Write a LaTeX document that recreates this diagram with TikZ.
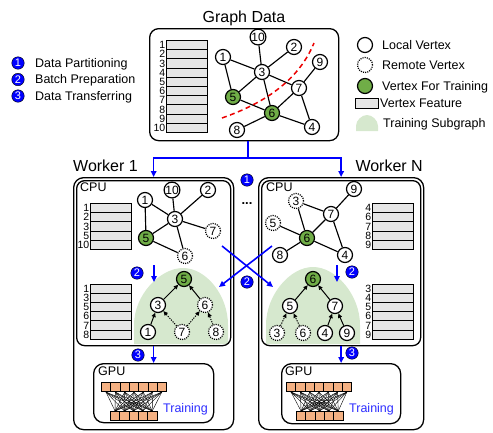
\documentclass[tikz,border=0pt]{standalone}
\usepackage{fontspec}
\setmainfont{Liberation Sans}
\usetikzlibrary{arrows.meta}
\usetikzlibrary{positioning}

\definecolor{vgreen}{RGB}{112,173,71}
\definecolor{sgreen}{RGB}{214,232,206}
\definecolor{featgray}{RGB}{230,230,230}
\definecolor{bblue}{RGB}{0,0,255}
\definecolor{tblue}{RGB}{45,45,255}
\definecolor{norange}{RGB}{244,177,131}
\definecolor{cutred}{RGB}{235,0,0}

% column of feature rows: name, x, top y, labels
\newcommand{\featcol}[4]{%
  \foreach \lbl [count=\k] in {#4} {
    \node[feat, anchor=north west] (#1\k) at (#2, {#3+(\k-1)*9.2}) {};
    \node[featnum, anchor=east] (#1n\k) at (#1\k.west) {\lbl};
  }
}

% small dense network: name, x of top row, x of bottom row
\newcommand{\nnet}[3]{%
  \foreach \k in {1,...,7}
    \node[neuron, anchor=north west] (#1t\k) at ({#2+(\k-1)*9.3}, 382) {};
  \foreach \k in {1,...,5}
    \node[neuron, anchor=north west] (#1b\k) at ({#3+(\k-1)*9.3}, 411) {};
  \foreach \i in {1,...,7} {
    \foreach \j in {1,...,5} {
      \draw[syn] (#1t\i.south) -- (#1b\j.north);
    }
  }
}

\begin{document}
\begin{tikzpicture}[x=1pt, y=-1pt,
    vtx/.style={circle, draw=black, line width=1.2pt, fill=white, minimum size=15pt, inner sep=0pt, font=\fontsize{12}{12}\selectfont},
    remote/.style={vtx, dash pattern=on 1.1pt off 1.1pt},
    train/.style={vtx, fill=vgreen},
    feat/.style={rectangle, draw=black, line width=1pt, fill=featgray, minimum width=41pt, minimum height=9.2pt, inner sep=0pt},
    featnum/.style={inner sep=0.6pt, font=\fontsize{10.5}{10.5}\selectfont},
    panel/.style={rectangle, draw=black, line width=1.3pt, rounded corners=9pt, inner sep=0pt, anchor=north west},
    badge/.style={circle, fill=bblue, draw=black, line width=0.4pt, text=white, minimum size=12.5pt, inner sep=0pt, font=\fontsize{11}{11}\selectfont},
    flow/.style={draw=bblue, line width=1.6pt, -{Triangle[length=6pt,width=5.5pt]}},
    link/.style={line width=1.15pt},
    dep/.style={line width=1pt, -{Triangle[length=4.5pt,width=4pt]}},
    remotedep/.style={dep, dash pattern=on 1.2pt off 1.2pt},
    neuron/.style={rectangle, draw=black, line width=0.8pt, fill=norange, minimum size=9.3pt, inner sep=0pt},
    syn/.style={line width=0.4pt},
    txt/.style={inner sep=0pt, font=\fontsize{12.5}{13}\selectfont},
    head/.style={inner sep=0pt, font=\fontsize{16}{17}\selectfont}]

  \useasboundingbox (0,0) rectangle (493,432);

  % Legend, steps
  \node[badge] (bd1) at (18,63) {1};
  \node[badge] (bd2) at (18,79.5) {2};
  \node[badge] (bd3) at (18,96) {3};
  \node[txt, anchor=base west] (lg1) at (35,67.3) {Data Partitioning};
  \node[txt, anchor=base west] (lg2) at (35,83.8) {Batch Preparation};
  \node[txt, anchor=base west] (lg3) at (35,100.3) {Data Transferring};

  % Legend, symbols
  \node[vtx] (ic1) at (365,45) {};
  \node[remote] (ic2) at (365,65) {};
  \node[train] (ic3) at (365,86) {};
  \node[feat, minimum width=23pt, minimum height=10pt] (ic4) at (366.5,103) {};
  \fill[sgreen] (356,131) -- (356,126) .. controls (356,120) and (362,115) .. (367,115)
    .. controls (372,115) and (378,120) .. (378,126) -- (378,131) -- cycle;
  \node[txt, anchor=base west] (lr1) at (382,49.3) {Local Vertex};
  \node[txt, anchor=base west] (lr2) at (382,69.3) {Remote Vertex};
  \node[txt, anchor=base west] (lr3) at (382,90.3) {Vertex For Training};
  \node[txt, anchor=base west] (lr4) at (380,107.3) {Vertex Feature};
  \node[txt, anchor=base west] (lr5) at (383,127.3) {Training Subgraph};

  % Graph data
  \node[head, anchor=base] (gtitle) at (244,22.5) {Graph Data};
  \node[panel, minimum width=189pt, minimum height=112pt] (gdata) at (149,28) {};
  \featcol{gf}{166}{40}{1,2,3,4,5,6,7,8,9,10}

  \node[vtx] (g10) at (258,37) {10};
  \node[vtx] (g2) at (294,47) {2};
  \node[vtx] (g1) at (223,57) {1};
  \node[vtx] (g9) at (320,62) {9};
  \node[vtx] (g3) at (262,72) {3};
  \node[vtx] (g7) at (299,88) {7};
  \node[train] (g5) at (233,97) {5};
  \node[train] (g6) at (272,113) {6};
  \node[vtx] (g4) at (312,127) {4};
  \node[vtx] (g8) at (237,130) {8};
  \foreach \a/\b in {1/3,10/3,2/3,1/5,3/5,3/6,3/7,7/9,7/6,7/4,5/6,6/8,6/4}
    \draw[link] (g\a) -- (g\b);

  % Partition cut
  \draw[cutred, line width=1.5pt, dash pattern=on 5pt off 3.5pt]
    (222,118) .. controls (262,104) and (298,82) .. (314,43);

  % Workers
  \node[head, anchor=base west] (w1name) at (73,171.5) {Worker 1};
  \node[head, anchor=base east] (wNname) at (423,171.5) {Worker N};
  \node[panel, rounded corners=10pt, minimum width=160pt, minimum height=252pt] (w1) at (73,177) {};
  \node[panel, rounded corners=10pt, minimum width=165pt, minimum height=252pt] (wN) at (258,177) {};

  % Training subgraphs
  \fill[sgreen] (228,344) -- (228,325) .. controls (228,295) and (206,268) .. (183,268)
    .. controls (160,268) and (134,295) .. (134,325) -- (134,344) -- cycle;
  \fill[sgreen] (360,344) -- (360,325) .. controls (360,295) and (336,267) .. (313,267)
    .. controls (290,267) and (266,295) .. (266,325) -- (266,344) -- cycle;

  \node[panel, rounded corners=8pt, minimum width=154pt, minimum height=165pt] (cpu1) at (76,180) {};
  \node[panel, rounded corners=8pt, minimum width=159pt, minimum height=165pt] (cpuN) at (261,180) {};
  \node[panel, rounded corners=10pt, minimum width=120pt, minimum height=59pt] (gpu1) at (93,363) {};
  \node[panel, rounded corners=10pt, minimum width=119pt, minimum height=60pt] (gpuN) at (281,363) {};
  \node[txt, anchor=base west] (cpu1name) at (80,191) {CPU};
  \node[txt, anchor=base west] (cpuNname) at (266,191.5) {CPU};
  \node[txt, anchor=base west] (gpu1name) at (98,375.7) {GPU};
  \node[txt, anchor=base west] (gpuNname) at (285,375.7) {GPU};

  % Worker 1 partition
  \featcol{af}{90}{203}{1,2,3,5,10}
  \node[vtx] (a10) at (172,190) {10};
  \node[vtx] (a2) at (208,190) {2};
  \node[vtx] (a1) at (145,200) {1};
  \node[vtx] (a3) at (175,219) {3};
  \node[remote] (a7) at (213,231) {7};
  \node[train] (a5) at (146,238) {5};
  \node[remote] (a6) at (185,256) {6};
  \foreach \a/\b in {1/3,10/3,2/3,3/7,3/5,3/6,1/5,5/6}
    \draw[link] (a\a) -- (a\b);

  % Worker 1 batch
  \featcol{bf}{90}{283.5}{1,3,5,6,7,8}
  \node[train] (b5) at (184,279) {5};
  \node[vtx] (b3) at (158,305) {3};
  \node[remote] (b6) at (205,305) {6};
  \node[vtx] (b1) at (148,332) {1};
  \node[remote] (b7) at (182,332) {7};
  \node[remote] (b8) at (216,332) {8};
  \draw[dep] (b3) -- (b5);
  \draw[dep] (b6) -- (b5);
  \draw[dep] (b1) -- (b3);
  \draw[remotedep] (b7) -- (b3);
  \draw[remotedep] (b7) -- (b6);
  \draw[remotedep] (b8) -- (b6);

  % Worker N partition
  \featcol{cf}{372}{203}{4,6,7,8,9}
  \node[vtx] (c9) at (354,189) {9};
  \node[remote] (c3) at (296,201) {3};
  \node[vtx] (c7) at (331,214) {7};
  \node[remote] (c5) at (273,223) {5};
  \node[train] (c6) at (307,238) {6};
  \node[vtx] (c8) at (280,255) {8};
  \node[vtx] (c4) at (345,255) {4};
  \foreach \a/\b in {9/7,3/7,3/6,7/6,7/4,5/6,6/8,6/4}
    \draw[link] (c\a) -- (c\b);

  % Worker N batch
  \featcol{df}{372}{283.5}{3,4,5,6,7,9}
  \node[train] (d6) at (313,279) {6};
  \node[vtx] (d5) at (290,306) {5};
  \node[vtx] (d7) at (335,306) {7};
  \node[remote] (d3) at (277,333) {3};
  \node[remote] (d6x) at (303,333) {6};
  \node[vtx] (d4) at (325,333) {4};
  \node[vtx] (d9) at (347,333) {9};
  \draw[dep] (d5) -- (d6);
  \draw[dep] (d7) -- (d6);
  \draw[dep] (d4) -- (d7);
  \draw[dep] (d9) -- (d7);
  \draw[remotedep] (d3) -- (d5);
  \draw[remotedep] (d6x) -- (d5);

  % GPU models
  \nnet{ua}{101}{110}
  \nnet{ub}{286}{296}
  \node[txt, text=tblue, anchor=base west] (tr1) at (163,412.7) {Training};
  \node[txt, text=tblue, anchor=base west] (trN) at (349,412.7) {Training};

  % Step 1: partitioning
  \coordinate (split) at (248,158);
  \draw[flow, -] (split |- gdata.south) -- (split);
  \draw[flow] (split) -| (w1.north);
  \draw[flow] (split) -| (wN.north);
  \node[badge] (p1) at (247,180) {1};
  \node[inner sep=0pt, font=\fontsize{13}{13}\selectfont\bfseries] (dots) at (247,204) {...};

  % Step 2: batch preparation
  \coordinate (s1a) at (154,265);
  \coordinate (s1b) at (154,282);
  \coordinate (sNa) at (337,265);
  \coordinate (sNb) at (337,282);
  \draw[flow] (s1a) -- (s1b);
  \draw[flow] (sNa) -- (sNb);
  \node[badge] (w1two) at (137,273) {2};
  \node[badge] (wNtwo) at (352,272) {2};
  \coordinate (x1s) at (222,246);
  \coordinate (x1e) at (273,287);
  \coordinate (x2s) at (272,246);
  \coordinate (x2e) at (219,287);
  \draw[flow] (x1s) -- (x1e);
  \draw[flow] (x2s) -- (x2e);
  \node[badge] (p2) at (247,282) {2};

  % Step 3: transferring
  \draw[flow] (cpu1.south) -- (gpu1.north);
  \draw[flow] (cpuN.south) -- (gpuN.north);
  \node[badge] (w1three) at (138,355) {3};
  \node[badge] (wNthree) at (352,353) {3};

\end{tikzpicture}
\end{document}
